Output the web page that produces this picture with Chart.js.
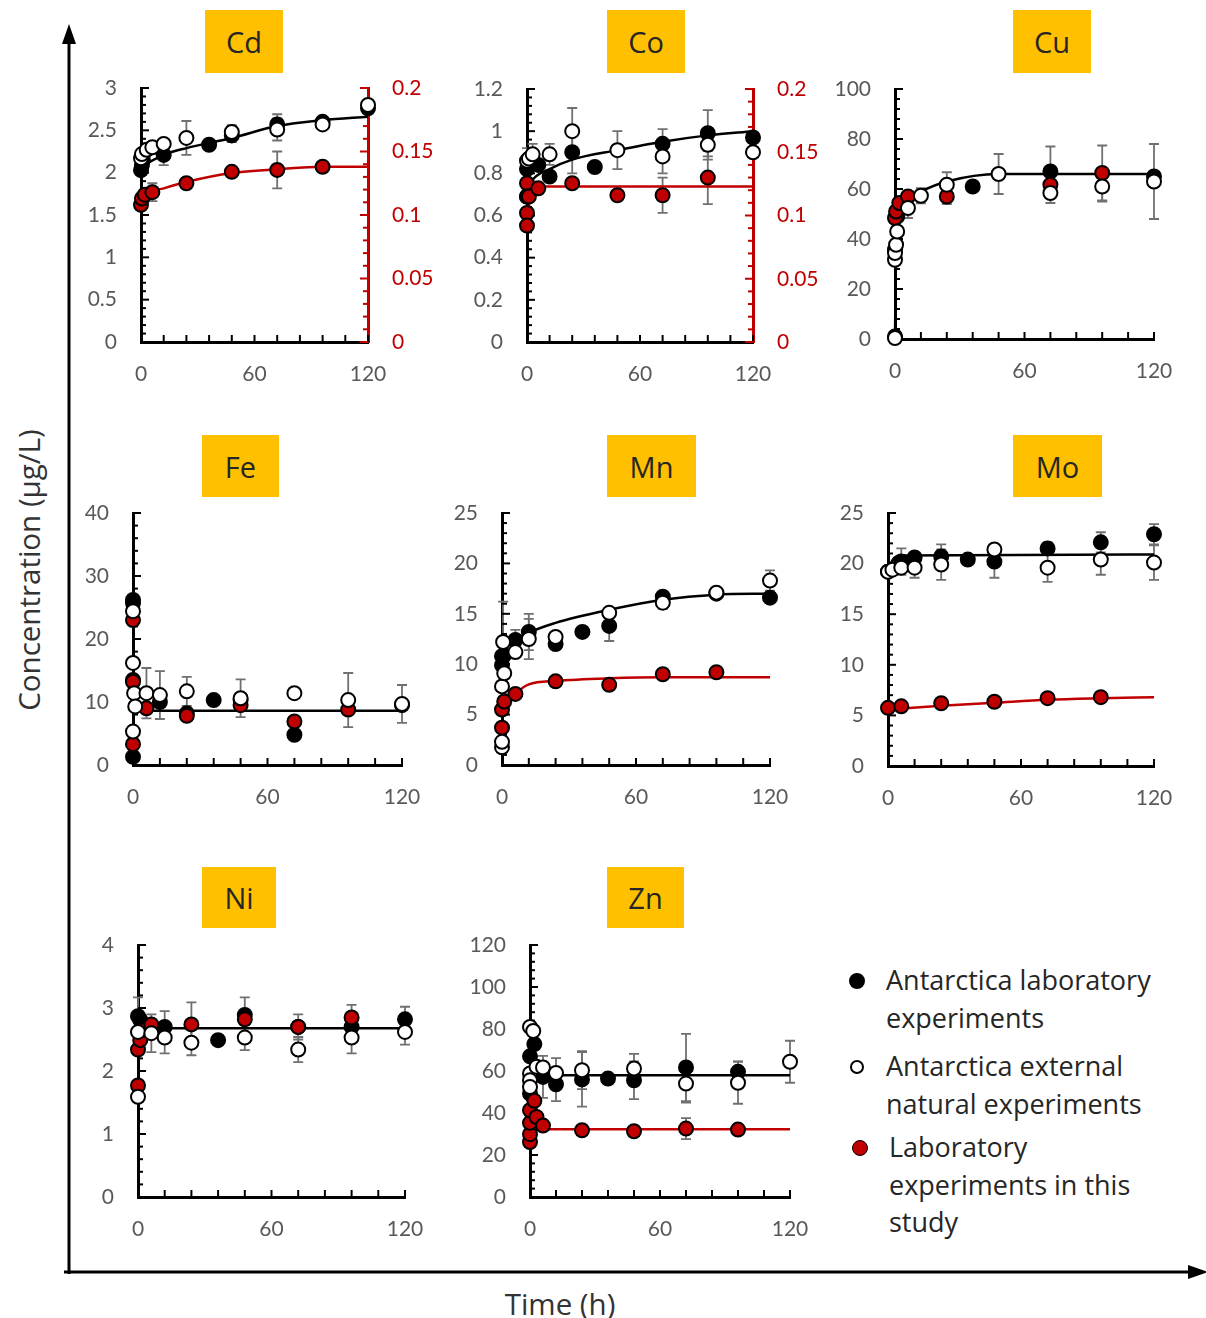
<!DOCTYPE html>
<html>
<head>
<meta charset="utf-8">
<script src="https://cdn.jsdelivr.net/npm/chart.js@4.4.1/dist/chart.umd.min.js"></script>
<style>
  body { margin: 0; background: #fff; width: 1206px; height: 1318px; position: relative; overflow: hidden; font-family: "Open Sans", sans-serif; }
  canvas { position: absolute; }
  .tag { position: absolute; background: #FFC000; color: #262626; font-size: 29px; display: flex; align-items: center; justify-content: center; }
  .leg { position: absolute; font-size: 27px; color: #262626; line-height: 38px; white-space: nowrap; }
  .dot { position: absolute; border-radius: 50%; border: 2px solid #000; box-sizing: border-box; }
  .axt { position: absolute; font-size: 29.5px; color: #333; white-space: nowrap; }
</style>
</head>
<body>

<svg width="1206" height="1318" style="position:absolute;left:0;top:0">
  <line x1="69" y1="1274" x2="69" y2="40" stroke="#000" stroke-width="3"/>
  <polygon points="69,24 62,44 76,44" fill="#000"/>
  <line x1="64" y1="1272" x2="1192" y2="1272" stroke="#000" stroke-width="3"/>
  <polygon points="1208,1272 1188,1265 1188,1279" fill="#000"/>
</svg>

<div class="axt" style="left:28px;top:570px;transform:translate(-50%,-50%) rotate(-90deg)">Concentration (µg/L)</div>
<div class="axt" style="left:560px;top:1303px;transform:translate(-50%,-50%)">Time (h)</div>

<div class="tag" style="left:205px;top:10px;width:78px;height:63px">Cd</div>
<div class="tag" style="left:607px;top:10px;width:78px;height:63px">Co</div>
<div class="tag" style="left:1013px;top:10px;width:78px;height:63px">Cu</div>
<div class="tag" style="left:202px;top:435px;width:77px;height:62px">Fe</div>
<div class="tag" style="left:607px;top:435px;width:89px;height:62px">Mn</div>
<div class="tag" style="left:1013px;top:435px;width:89px;height:62px">Mo</div>
<div class="tag" style="left:202px;top:867px;width:74px;height:61px">Ni</div>
<div class="tag" style="left:607px;top:867px;width:77px;height:61px">Zn</div>

<canvas id="cd"></canvas>
<canvas id="co"></canvas>
<canvas id="cu"></canvas>
<canvas id="fe"></canvas>
<canvas id="mn"></canvas>
<canvas id="mo"></canvas>
<canvas id="ni"></canvas>
<canvas id="zn"></canvas>

<div class="dot" style="left:849px;top:973px;width:16px;height:16px;background:#000"></div>
<div class="leg" style="left:886px;top:961px">Antarctica laboratory<br>experiments</div>
<div class="dot" style="left:850px;top:1060px;width:14px;height:14px;background:#fff"></div>
<div class="leg" style="left:886px;top:1047px">Antarctica external<br>natural experiments</div>
<div class="dot" style="left:852px;top:1140px;width:16px;height:16px;background:#C00000;border-width:1.5px"></div>
<div class="leg" style="left:889px;top:1128px;line-height:37.5px">Laboratory<br>experiments in this<br>study</div>

<script>
// rows: [time (h), concentration, sd]
// Cd (study series on right axis)
const cdLab = [[0, 2.03, 0], [0.5, 2.09, 0], [1, 2.15, 0], [12, 2.21, 0.12], [36, 2.33, 0], [48, 2.44, 0.08], [72, 2.57, 0.12], [96, 2.6, 0], [120, 2.76, 0]];
const cdExt = [[0, 2.17, 0], [0.5, 2.22, 0], [3, 2.27, 0], [6, 2.3, 0], [12, 2.34, 0], [24, 2.41, 0.2], [48, 2.48, 0.08], [72, 2.51, 0.13], [96, 2.57, 0], [120, 2.8, 0]];
const cdStudy = [[0, 0.108, 0], [0.5, 0.113, 0], [2, 0.116, 0], [6, 0.118, 0.007], [24, 0.125, 0], [48, 0.134, 0], [72, 0.1355, 0.0145], [96, 0.138, 0]];
const cdLabFit = [[0, 2.07], [12, 2.21], [24, 2.29], [48, 2.41], [72, 2.55], [96, 2.62], [120, 2.66]];
const cdStudyFit = [[0, 0.108], [3, 0.116], [12, 0.121], [24, 0.126], [48, 0.133], [72, 0.136], [96, 0.138], [120, 0.138]];

// Co (study series on right axis)
const coLab = [[0, 0.82, 0], [0, 0.69, 0], [1, 0.84, 0], [6, 0.84, 0], [12, 0.785, 0], [24, 0.9, 0.1], [36, 0.83, 0], [72, 0.94, 0.07], [96, 0.99, 0.11], [120, 0.97, 0]];
const coExt = [[0, 0.86, 0.06], [1, 0.87, 0], [3, 0.89, 0.05], [12, 0.89, 0.05], [24, 1.0, 0.11], [48, 0.91, 0.09], [72, 0.88, 0.08], [96, 0.935, 0.07], [120, 0.9, 0]];
const coStudy = [[0, 0.1255, 0], [0, 0.115, 0], [0, 0.102, 0], [0, 0.092, 0], [1, 0.115, 0], [6, 0.1215, 0], [24, 0.1255, 0], [48, 0.116, 0], [72, 0.116, 0.014], [96, 0.13, 0.021]];
const coLabFit = [[0, 0.72], [3, 0.77], [12, 0.82], [24, 0.865], [48, 0.91], [72, 0.95], [96, 0.98], [120, 1.0]];
const coStudyFit = [[0, 0.095], [2, 0.118], [5, 0.1229], [120, 0.1229]];

// Cu
const cuLab = [[0, 1, 0], [0, 35.7, 0], [1, 49, 0], [36, 61, 0], [72, 67, 10], [120, 65, 0]];
const cuExt = [[0, 0.4, 0], [0, 31.7, 0], [0, 34.4, 0], [0.5, 37.7, 0], [1, 43, 0], [6, 52.4, 4], [12, 57.3, 3], [24, 61.7, 5], [48, 66, 8], [72, 58.4, 4], [96, 61, 6], [120, 63, 15]];
const cuStudy = [[0, 48.4, 0], [0.5, 51, 0], [2, 54.4, 0], [6, 57, 0], [24, 57, 3], [72, 61.7, 0], [96, 66.4, 11]];
const cuLabFit = [[0, 0], [0.5, 40], [1, 48], [3, 53], [6, 56], [12, 59], [24, 63], [48, 66], [72, 66], [120, 66]];

// Fe
const feLab = [[0, 26.2, 0], [0, 25.7, 0], [0, 13.5, 0], [0, 1.3, 0], [12, 10, 0], [24, 8.2, 0], [36, 10.3, 0], [48, 10.3, 0], [72, 4.8, 0], [120, 9.5, 0]];
const feExt = [[0, 24.4, 0], [0, 16.2, 0], [0.5, 11.4, 0], [0, 5.3, 0], [1, 9.3, 0], [6, 11.4, 4], [12, 11.1, 3.8], [24, 11.7, 2.3], [48, 10.6, 3], [72, 11.4, 0], [96, 10.3, 4.3], [120, 9.7, 3]];
const feStudy = [[0, 23, 0], [0, 13.2, 0], [0, 3.3, 0], [6, 9, 0], [24, 7.8, 0], [48, 9.5, 0], [72, 6.9, 0], [96, 8.8, 0]];
const feLabFit = [[0, 8.6], [120, 8.6]];

// Mn
const mnLab = [[0, 9.9, 0], [0, 10.8, 0], [1, 10.9, 0], [6, 12.4, 1], [12, 13.2, 1.8], [24, 12, 0], [36, 13.2, 0], [48, 13.8, 1.5], [72, 16.7, 0], [96, 17, 0], [120, 16.6, 0]];
const mnExt = [[0, 1.75, 0], [0, 2.3, 0], [0, 7.8, 0], [1, 9.1, 0], [0.5, 12.2, 4], [6, 11.2, 0], [12, 12.5, 2], [24, 12.7, 0], [48, 15.1, 0], [72, 16.1, 0.6], [96, 17.1, 0], [120, 18.3, 1]];
const mnStudy = [[0, 3.7, 0], [0, 5.5, 0], [1, 6.3, 0], [6, 7.05, 0], [24, 8.3, 0.4], [48, 7.95, 0], [72, 9.0, 0], [96, 9.2, 0]];
const mnLabFit = [[0, 10], [6, 12.2], [12, 13.1], [24, 14.1], [48, 15.4], [72, 16.4], [96, 16.9], [120, 17.0]];
const mnStudyFit = [[0, 5], [6, 7], [12, 8.0], [24, 8.35], [48, 8.6], [72, 8.7], [120, 8.7]];

// Mo
const moLab = [[0, 19.2, 0], [6, 20.2, 1.3], [12, 20.6, 0], [24, 20.7, 1.2], [36, 20.4, 0], [48, 20.2, 1.6], [72, 21.5, 0.6], [96, 22.1, 1], [120, 22.9, 1]];
const moExt = [[0, 19.2, 0], [2, 19.4, 0], [6, 19.6, 0], [12, 19.6, 1], [24, 19.9, 1.5], [48, 21.4, 0], [72, 19.6, 1.4], [96, 20.4, 1.5], [120, 20.1, 1.7]];
const moStudy = [[0, 5.75, 0], [6, 5.9, 0], [24, 6.2, 0.4], [48, 6.35, 0], [72, 6.7, 0], [96, 6.8, 0]];
const moLabFit = [[0, 19.5], [3, 20.6], [6, 20.8], [120, 20.9]];
const moStudyFit = [[0, 5.6], [24, 5.95], [48, 6.25], [72, 6.55], [96, 6.7], [120, 6.8]];

// Ni
const niLab = [[0, 2.87, 0.3], [1, 2.81, 0], [12, 2.7, 0.25], [36, 2.49, 0], [48, 2.89, 0], [72, 2.7, 0], [96, 2.7, 0], [120, 2.82, 0.2]];
const niExt = [[0, 2.62, 0], [0, 1.59, 0], [6, 2.6, 0.3], [12, 2.53, 0.25], [24, 2.45, 0.2], [48, 2.53, 0.2], [72, 2.34, 0.2], [96, 2.53, 0.25], [120, 2.62, 0.2]];
const niStudy = [[0, 1.77, 0], [0, 2.34, 0], [1, 2.49, 0], [3, 2.65, 0], [6, 2.74, 0], [24, 2.74, 0.35], [48, 2.82, 0.35], [72, 2.7, 0.2], [96, 2.85, 0.2]];
const niLabFit = [[0, 2.3], [2, 2.62], [4, 2.68], [120, 2.68]];

// Zn
const znLab = [[0, 49.3, 0], [0, 67, 0], [2, 72.8, 0], [6, 57.2, 10], [12, 53.7, 8], [24, 56, 13], [36, 56.4, 0], [48, 55.6, 9], [72, 61.7, 16], [96, 59.6, 5]];
const znExt = [[0, 81, 0], [0, 58.8, 0], [0, 55.6, 0], [0, 52.4, 0], [1.5, 79.1, 0], [3, 62, 0], [6, 61.7, 0], [12, 59.1, 7], [24, 60.4, 9], [48, 61.2, 7], [72, 54, 9], [96, 54.4, 10], [120, 64.4, 10]];
const znStudy = [[0, 26.2, 0], [0, 29.9, 0], [0, 35.3, 0], [0, 41.3, 0], [2, 45.8, 0], [3, 38.1, 0], [6, 34, 0], [24, 31.8, 0], [48, 31.3, 0], [72, 32.6, 5], [96, 32.1, 0]];
const znLabFit = [[1, 58], [120, 58]];
const znStudyFit = [[3, 32.3], [120, 32.3]];

const xTicks = [0, 60, 120];
const RED = "#C00000";
const GREY = "#595959";
const tickFont = { family: "Lato", size: 21 };

// panel layout: plot area in page pixels
const panels = [
  { id: "cd", L: 141, R: 368, T: 88, B: 342, yMax: 3, yStep: 0.5, y2Max: 0.2, y2Step: 0.05,
    lab: cdLab, ext: cdExt, study: cdStudy, labFit: cdLabFit, studyFit: cdStudyFit },
  { id: "co", L: 527, R: 753, T: 89, B: 342, yMax: 1.2, yStep: 0.2, y2Max: 0.2, y2Step: 0.05,
    lab: coLab, ext: coExt, study: coStudy, labFit: coLabFit, studyFit: coStudyFit },
  { id: "cu", L: 895, R: 1154, T: 89, B: 339, yMax: 100, yStep: 20,
    lab: cuLab, ext: cuExt, study: cuStudy, labFit: cuLabFit },
  { id: "fe", L: 133, R: 402, T: 513, B: 765, yMax: 40, yStep: 10,
    lab: feLab, ext: feExt, study: feStudy, labFit: feLabFit },
  { id: "mn", L: 502, R: 770, T: 513, B: 765, yMax: 25, yStep: 5,
    lab: mnLab, ext: mnExt, study: mnStudy, labFit: mnLabFit, studyFit: mnStudyFit },
  { id: "mo", L: 888, R: 1154, T: 513, B: 766, yMax: 25, yStep: 5,
    lab: moLab, ext: moExt, study: moStudy, labFit: moLabFit, studyFit: moStudyFit },
  { id: "ni", L: 138, R: 405, T: 945, B: 1197, yMax: 4, yStep: 1,
    lab: niLab, ext: niExt, study: niStudy, labFit: niLabFit },
  { id: "zn", L: 530, R: 790, T: 945, B: 1197, yMax: 120, yStep: 20,
    lab: znLab, ext: znExt, study: znStudy, labFit: znLabFit, studyFit: znStudyFit },
];

// error bars behind the markers
const errorBars = {
  id: "errorBars",
  beforeDatasetsDraw(chart) {
    const ctx = chart.ctx;
    chart.data.datasets.forEach((ds, i) => {
      if (!ds.err) return;
      const meta = chart.getDatasetMeta(i);
      const ys = chart.scales[ds.yAxisID];
      ctx.save();
      ctx.strokeStyle = "#707070";
      ctx.lineWidth = 1.8;
      ds.data.forEach((p, j) => {
        const e = ds.err[j];
        if (!e) return;
        const x = meta.data[j].x;
        const y1 = ys.getPixelForValue(p.y + e);
        const y2 = ys.getPixelForValue(p.y - e);
        ctx.beginPath();
        ctx.moveTo(x, y1); ctx.lineTo(x, y2);
        ctx.moveTo(x - 5, y1); ctx.lineTo(x + 5, y1);
        ctx.moveTo(x - 5, y2); ctx.lineTo(x + 5, y2);
        ctx.stroke();
      });
      ctx.restore();
    });
  },
};

// Excel style ticks pointing into the plot
const insideTicks = {
  id: "insideTicks",
  beforeDatasetsDraw(chart) {
    const ctx = chart.ctx, a = chart.chartArea;
    ctx.save();
    ctx.lineWidth = 2;
    const xs = chart.scales.x;
    ctx.strokeStyle = "#000";
    for (let v = xs.min; v <= xs.max + 1e-6; v += 12) {
      const px = xs.getPixelForValue(v);
      ctx.beginPath(); ctx.moveTo(px, a.bottom); ctx.lineTo(px, a.bottom - 7); ctx.stroke();
    }
    ["y", "y2"].forEach((id) => {
      const s = chart.scales[id];
      if (!s) return;
      const side = id === "y" ? a.left : a.right;
      const dir = id === "y" ? 1 : -1;
      ctx.strokeStyle = s.options.border.color;
      const minor = s.options.ticks.stepSize / 5;
      const n = Math.round((s.max - s.min) / minor);
      for (let k = 0; k <= n; k++) {
        const py = s.getPixelForValue(s.min + k * minor);
        const len = k % 5 === 0 ? 8 : 5;
        ctx.beginPath(); ctx.moveTo(side, py); ctx.lineTo(side + dir * len, py); ctx.stroke();
      }
    });
    ctx.restore();
  },
};

// "3" not "3.0", "0.2" not "0.20"
const plainNum = (v) => String(+Number(v).toFixed(4));

function scatterSet(label, rows, fill, order, axis) {
  return {
    label,
    data: rows.map((r) => ({ x: r[0], y: r[1] })),
    err: rows.map((r) => r[2]),
    yAxisID: axis,
    backgroundColor: fill,
    borderColor: "#000",
    pointRadius: 7,
    pointHoverRadius: 7,
    pointBorderWidth: 2,
    showLine: false,
    order,
    clip: false,
  };
}

function fitSet(rows, color, axis) {
  return {
    data: rows.map((r) => ({ x: r[0], y: r[1] })),
    yAxisID: axis,
    borderColor: color,
    borderWidth: 2.5,
    pointRadius: 0,
    showLine: true,
    cubicInterpolationMode: "monotone",
    order: 6,
    clip: false,
  };
}

function fixVertical(width) {
  return (s) => {
    s.width = width;
    s.paddingTop = 10;
    s.paddingBottom = 0;
  };
}

panels.forEach((p) => {
  const hasY2 = p.y2Max !== undefined;
  const studyAxis = hasY2 ? "y2" : "y";
  const canvas = document.getElementById(p.id);
  const w = 70 + (p.R - p.L) + (hasY2 ? 75 : 30);
  const h = 16 + (p.B - p.T) + 48;
  canvas.width = w;
  canvas.height = h;
  canvas.style.left = p.L - 70 + "px";
  canvas.style.top = p.T - 16 + "px";

  const datasets = [
    scatterSet("Antarctica external natural experiments", p.ext, "#fff", 1, "y"),
    scatterSet("Laboratory experiments in this study", p.study, RED, 2, studyAxis),
    scatterSet("Antarctica laboratory experiments", p.lab, "#000", 3, "y"),
    fitSet(p.labFit, "#000", "y"),
  ];
  if (p.studyFit) datasets.push(fitSet(p.studyFit, RED, studyAxis));

  const scales = {
    x: {
      type: "linear", min: 0, max: 120,
      afterFit: (s) => { s.height = 48; s.paddingLeft = 0; s.paddingRight = 20; },
      afterBuildTicks: (s) => { s.ticks = xTicks.map((v) => ({ value: v })); },
      grid: { display: false, drawTicks: false },
      border: { color: "#000", width: 3 },
      ticks: { padding: 20, color: GREY, font: tickFont, maxRotation: 0 },
    },
    y: {
      type: "linear", position: "left", min: 0, max: p.yMax,
      afterFit: fixVertical(70),
      grid: { display: false, drawTicks: false },
      border: { color: "#000", width: 3 },
      ticks: { stepSize: p.yStep, padding: 24, color: GREY, font: tickFont, callback: plainNum },
    },
  };
  if (hasY2) {
    scales.y2 = {
      type: "linear", position: "right", min: 0, max: p.y2Max,
      afterFit: fixVertical(75),
      grid: { display: false, drawTicks: false },
      border: { color: RED, width: 3 },
      ticks: { stepSize: p.y2Step, padding: 24, color: RED, font: tickFont, callback: plainNum },
    };
  }

  new Chart(canvas, {
    type: "scatter",
    data: { datasets },
    options: {
      responsive: false,
      animation: false,
      layout: { padding: { top: 16, right: hasY2 ? 0 : 30, left: 0, bottom: 0 } },
      scales,
      plugins: { legend: { display: false }, tooltip: { enabled: false } },
    },
    plugins: [errorBars, insideTicks],
  });
});
</script>
</body>
</html>
